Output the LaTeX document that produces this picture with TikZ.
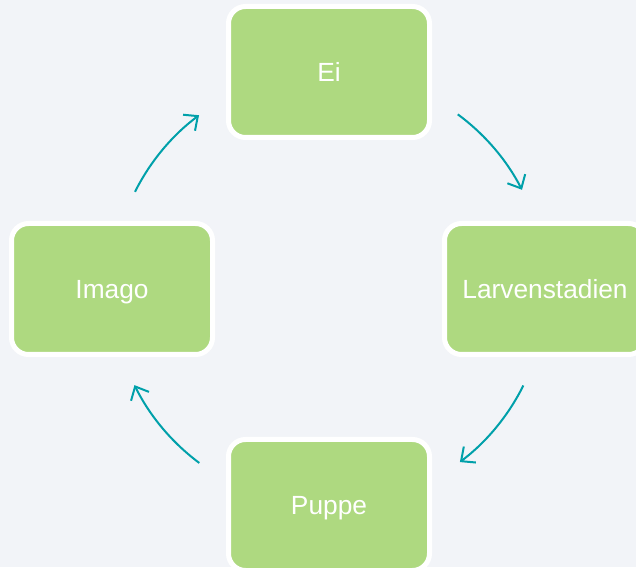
\documentclass[tikz,border=0pt]{standalone}
\usepackage{fontspec}
\setmainfont{Liberation Sans}
\usetikzlibrary{arrows.meta,positioning}
\definecolor{stagegreen}{HTML}{AED980}
\definecolor{cycleteal}{HTML}{00A0AA}
\definecolor{bgpaper}{HTML}{F2F4F8}

\begin{document}
\begin{tikzpicture}[x = 1pt, y = 1pt,
  stage/.style = {draw = white, line width = 5pt, fill = stagegreen, rounded corners = 17pt,
    minimum width = 201pt, minimum height = 131pt, text = white, text height = 18.6pt, text depth = 0pt,
    font = \fontsize{26.3}{30}\selectfont},
  cyclearrow/.style = {cycleteal, line width = 2pt, -{Straight Barb[length = 11pt, width = 20pt]}}]
\fill[bgpaper] (0,0) rectangle (636,567);
\clip (0,0) rectangle (636,567);
\coordinate (hub) at (329,278);
\node[stage] (ei) at (329,495) {Ei};
\node[stage] (larven) at (545,278) {Larvenstadien};
\node[stage] (puppe) at (329,62) {Puppe};
\node[stage] (imago) at (112,278) {Imago};
\draw[cyclearrow] ([shift = {(153.4:217)}]hub) arc[start angle = 153.4, end angle = 126.8, radius = 217];
\draw[cyclearrow] ([shift = {(53.6:217)}]hub) arc[start angle = 53.6, end angle = 27.2, radius = 217];
\draw[cyclearrow] ([shift = {(-26.4:217)}]hub) arc[start angle = -26.4, end angle = -52.9, radius = 217];
\draw[cyclearrow] ([shift = {(-126.7:217)}]hub) arc[start angle = -126.7, end angle = -153.7, radius = 217];
\end{tikzpicture}
\end{document}
